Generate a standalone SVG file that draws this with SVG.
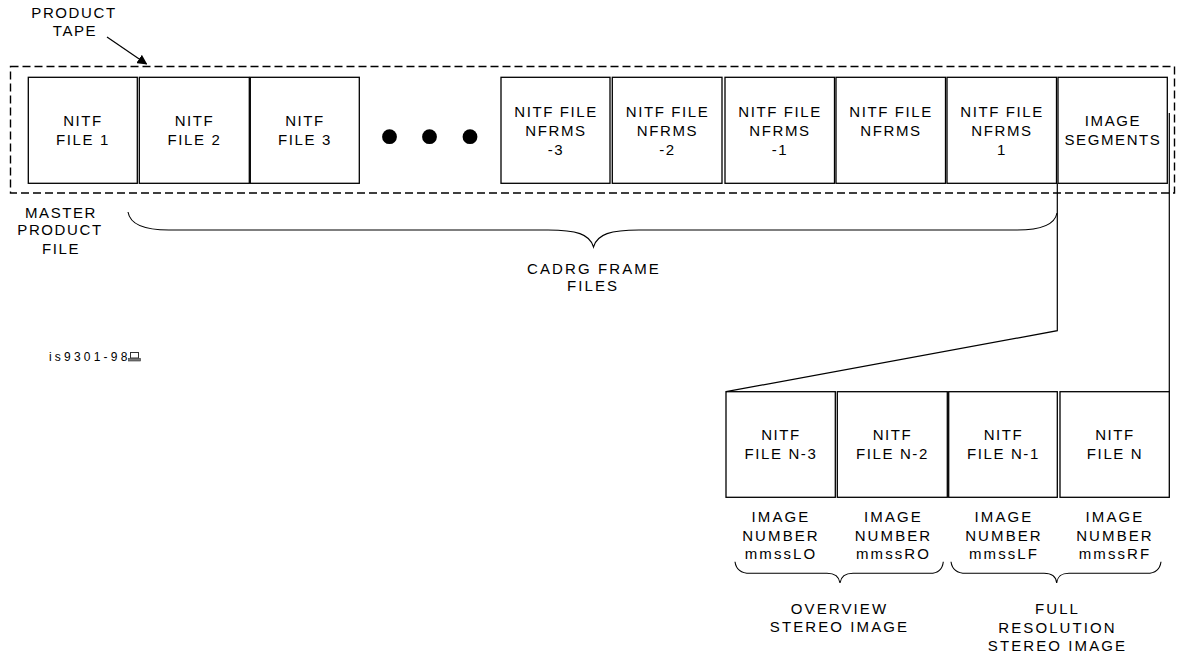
<svg xmlns="http://www.w3.org/2000/svg" width="1178" height="663" viewBox="0 0 1178 663">
<style>
text{font-family:"Liberation Sans",Arial,sans-serif;font-size:15px;fill:#000;text-anchor:middle;letter-spacing:1.6px}
.ls2{letter-spacing:2.1px}
.box{fill:#fff;stroke:#000;stroke-width:1.3}
.ln{fill:none;stroke:#000;stroke-width:1.2}
.br{fill:none;stroke:#000;stroke-width:1.1}
</style>
<defs>
<marker id="ah" viewBox="0 0 10 10" refX="9" refY="5" markerWidth="10" markerHeight="10" markerUnits="userSpaceOnUse" orient="auto">
<path d="M0,0 L10,5 L0,10 z" fill="#000"/>
</marker>
</defs>
<rect width="1178" height="663" fill="#fff"/>

<g id="tape">
<rect x="10.5" y="66.5" width="1164" height="126.5" fill="none" stroke="#000" stroke-width="1.4" stroke-dasharray="8 4"/>
<text x="74" y="18">PRODUCT</text>
<text x="75" y="36">TAPE</text>
</g>

<g id="file1"><rect class="box" x="28.3" y="77.3" width="109" height="106"/><text x="83" y="126">NITF</text><text x="83" y="144.7">FILE 1</text></g>
<g id="file2"><rect class="box" x="139.3" y="77.3" width="110" height="106"/><text x="194.5" y="126">NITF</text><text x="194.5" y="144.7">FILE 2</text></g>
<g id="file3"><rect class="box" x="250.3" y="77.3" width="109" height="106"/><text x="305" y="126">NITF</text><text x="305" y="144.7">FILE 3</text></g>

<g id="dots">
<circle cx="389.5" cy="136.7" r="7.4"/>
<circle cx="429.5" cy="136.7" r="7.4"/>
<circle cx="470" cy="136.7" r="7.4"/>
</g>

<g id="nfrms-3"><rect class="box" x="501" y="77.3" width="109" height="106"/><text x="556" y="117">NITF FILE</text><text x="556" y="135.5">NFRMS</text><text x="556" y="154.5">-3</text></g>
<g id="nfrms-2"><rect class="box" x="612.3" y="77.3" width="109.7" height="106"/><text x="667.5" y="117">NITF FILE</text><text x="667.5" y="135.5">NFRMS</text><text x="667.5" y="154.5">-2</text></g>
<g id="nfrms-1"><rect class="box" x="725" y="77.3" width="109.5" height="106"/><text x="780" y="117">NITF FILE</text><text x="780" y="135.5">NFRMS</text><text x="780" y="154.5">-1</text></g>
<g id="nfrms"><rect class="box" x="836" y="77.3" width="109.5" height="106"/><text x="891" y="117">NITF FILE</text><text x="891" y="135.5">NFRMS</text></g>
<g id="nfrms1"><rect class="box" x="947" y="77.3" width="109.5" height="106"/><text x="1002" y="117">NITF FILE</text><text x="1002" y="135.5">NFRMS</text><text x="1002" y="154.5">1</text></g>
<g id="imgseg"><rect class="box" x="1058" y="77.3" width="109.3" height="106"/><text x="1113" y="126">IMAGE</text><text x="1113" y="145">SEGMENTS</text></g>

<g id="master">
<text x="61" y="218">MASTER</text>
<text x="60" y="235.3">PRODUCT</text>
<text x="61" y="253.6">FILE</text>
</g>

<g id="cadrg">
<text class="ls2" x="594" y="273.6">CADRG FRAME</text>
<text class="ls2" x="593" y="291.3">FILES</text>
</g>

<g id="label">
<text x="49" y="360.7" style="text-anchor:start;font-size:12px;letter-spacing:3.2px">is9301-98</text>
<rect x="130.5" y="352.5" width="8" height="5.5" fill="#fff" stroke="#333" stroke-width="1"/>
<rect x="128.5" y="358.5" width="12" height="2.5" fill="#777" stroke="#333" stroke-width="0.6"/>
</g>

<g id="fileN-3"><rect class="box" x="726" y="391.7" width="109.3" height="105.6"/><text x="781" y="439.5">NITF</text><text x="781" y="458.5">FILE N-3</text></g>
<g id="fileN-2"><rect class="box" x="837.3" y="391.7" width="110" height="105.6"/><text x="892.5" y="439.5">NITF</text><text x="892.5" y="458.5">FILE N-2</text></g>
<g id="fileN-1"><rect class="box" x="948.7" y="391.7" width="108.6" height="105.6"/><text x="1003.5" y="439.5">NITF</text><text x="1003.5" y="458.5">FILE N-1</text></g>
<g id="fileN"><rect class="box" x="1060" y="391.7" width="109.3" height="105.6"/><text x="1115" y="439.5">NITF</text><text x="1115" y="458.5">FILE N</text></g>

<g id="imgnums">
<text class="ls2" x="781" y="522">IMAGE</text><text class="ls2" x="781" y="541">NUMBER</text><text class="ls2" x="781" y="558.6">mmssLO</text>
<text class="ls2" x="893.5" y="522">IMAGE</text><text class="ls2" x="893.5" y="541">NUMBER</text><text class="ls2" x="893.5" y="558.6">mmssRO</text>
<text class="ls2" x="1004" y="522">IMAGE</text><text class="ls2" x="1004" y="541">NUMBER</text><text class="ls2" x="1004" y="558.6">mmssLF</text>
<text class="ls2" x="1115" y="522">IMAGE</text><text class="ls2" x="1115" y="541">NUMBER</text><text class="ls2" x="1115" y="558.6">mmssRF</text>
</g>

<g id="groups">
<text class="ls2" x="839.5" y="614.3">OVERVIEW</text>
<text class="ls2" x="839.5" y="632">STEREO IMAGE</text>
<text class="ls2" x="1057.5" y="614.3">FULL</text>
<text class="ls2" x="1057.5" y="632.5">RESOLUTION</text>
<text class="ls2" x="1057.5" y="651">STEREO IMAGE</text>
</g>

<g id="connectors">
<line class="ln" x1="107" y1="37" x2="146.5" y2="64" marker-end="url(#ah)"/>
<path class="br" d="M128,212 C130,224 145,230.5 172,230 L548,230 C576,230 590,234 593.5,247 C597,234 611,230 639,230 L1014,230 C1042,230.5 1055,224 1057,213"/>
<polyline class="ln" points="1057.3,183.3 1057.3,330.7 726,391.7"/>
<line class="ln" x1="1169.3" y1="113" x2="1169.3" y2="391.7"/>
<path class="br" d="M735,561.7 C736,569 740,573.3 750,573.3 L827,573.3 C835,573.3 839,576 840,583 C841,576 845,573.3 853,573.3 L930,573.3 C939,573.3 942.5,569 943.3,561.7"/>
<path class="br" d="M951,561.7 C952,569 956,573.3 966,573.3 L1044,573.3 C1052,573.3 1056,576 1056.7,583 C1057.5,576 1061,573.3 1069,573.3 L1147,573.3 C1156,573.3 1160,569 1161,561.7"/>
</g>
</svg>
